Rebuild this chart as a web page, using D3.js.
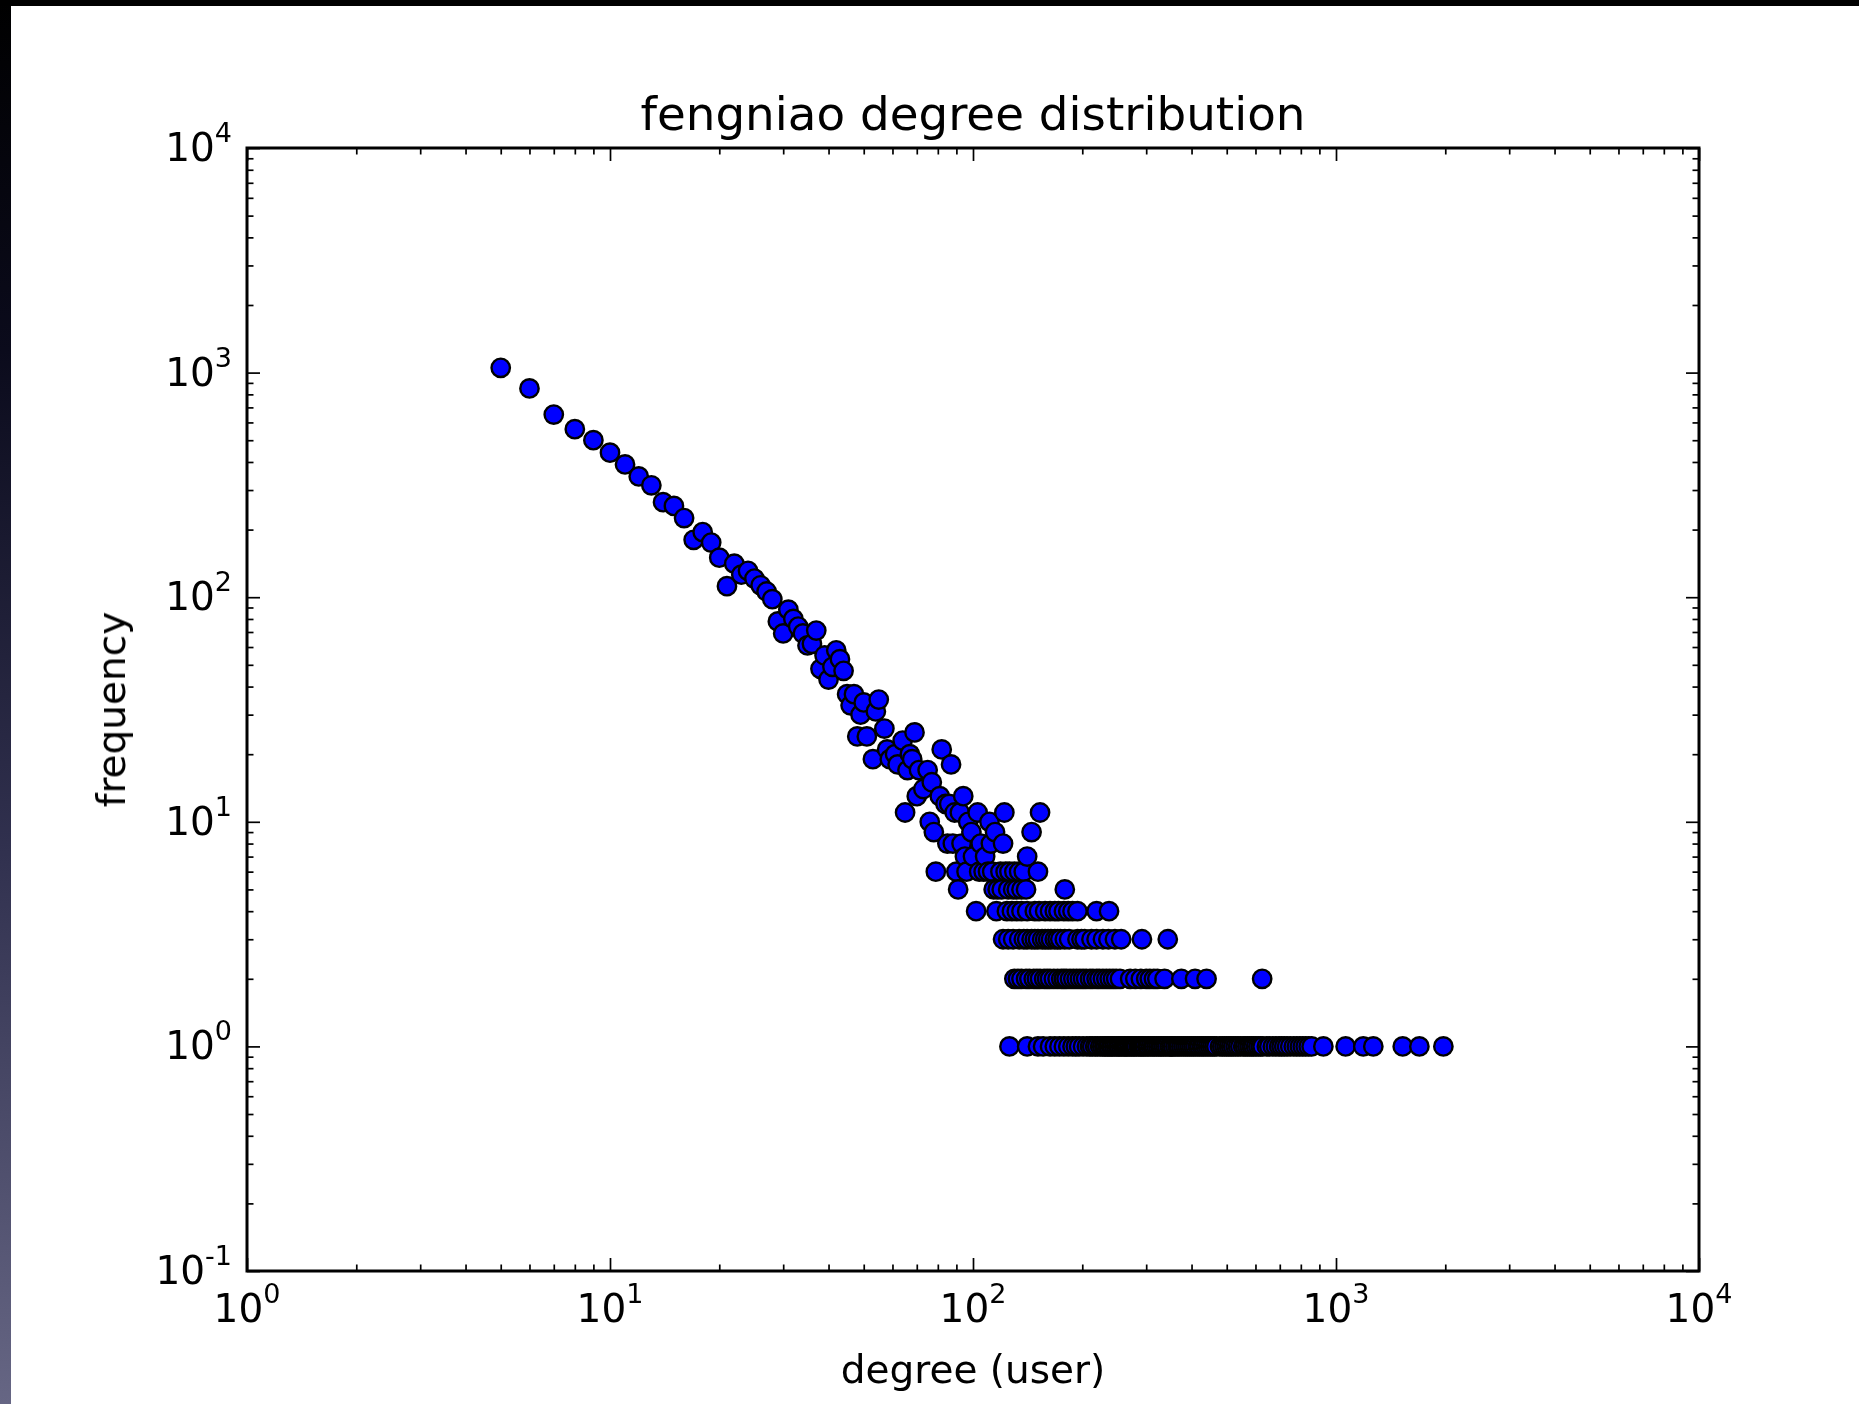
<!DOCTYPE html>
<html>
<head>
<meta charset="utf-8">
<script src="https://cdn.jsdelivr.net/npm/d3@7"></script>
<style>
  html, body { margin: 0; padding: 0; background: #ffffff; }
  svg { display: block; }
  text { font-family: "DejaVu Sans", "Bitstream Vera Sans", sans-serif; fill: #000; }
</style>
</head>
<body>
<svg id="chart" width="1859" height="1404"></svg>
<script>
// ---------------- data ----------------
const chartTitle = "fengniao degree distribution";
const xAxisLabel = "degree (user)";
const yAxisLabel = "frequency";
const xTickExponents = [0, 1, 2, 3, 4];
const yTickExponents = [-1, 0, 1, 2, 3, 4];

// head of the distribution (frequency >= 5)
const mainDegree = [
  5, 6, 7, 8, 9, 10, 11, 12, 13, 14,
  15, 16, 17, 18, 19, 20, 21, 22, 23, 24,
  25, 26, 27, 28, 29, 30, 31, 32, 33, 34,
  35, 36, 37, 38, 39, 40, 41, 42, 43, 44,
  45, 46, 47, 48, 49, 50,
  51, 53, 54, 55, 57, 58, 59, 61, 62, 64,
  65, 66, 67, 68, 69, 70, 71, 73, 75, 76,
  77, 78, 79, 81, 82, 84, 85, 86, 87, 88,
  89, 90, 91, 92, 93, 94, 95, 96, 97, 99,
  100, 103, 104, 105, 107, 108, 110, 111, 112, 113,
  114, 115, 117, 119, 120, 121, 122, 123, 125, 126,
  129, 130, 132, 134, 136, 138, 140, 141, 145, 151,
  153, 179
];
const mainFrequency = [
  1050, 850, 650, 560, 500, 440, 390, 345, 315, 265,
  255, 225, 180, 195, 175, 150, 112, 141, 126, 131,
  121, 113, 106, 98, 78, 69, 88, 80, 74, 69,
  61, 62, 71, 48, 55, 43, 49, 58, 53, 47,
  37, 33, 37, 24, 30, 34,
  24, 19, 31, 35, 26, 21, 19, 20, 18, 23,
  11, 17, 20, 19, 25, 13, 17, 14, 17, 10,
  15, 9, 6, 13, 21, 12, 8, 12, 18, 8,
  11, 6, 5, 11, 8, 13, 7, 6, 10, 9,
  7, 11, 6, 8, 6, 7, 6, 10, 8, 6,
  5, 9, 5, 6, 5, 8, 11, 6, 5, 6,
  5, 6, 5, 6, 5, 6, 5, 7, 9, 6,
  11, 5
];

// tail: degrees observed with frequency 4, 3, 2 and 1
const degreesFreq4 = [102, 116, 124, 128, 132, 136, 141, 148, 152, 158, 163, 168, 172, 178, 183, 188, 194, 219, 237];
const degreesFreq3 = [121, 125, 129, 134, 138, 141, 145, 148, 151, 155, 158, 161, 164, 168, 171, 174, 179, 184,
  194, 199, 203, 212, 219, 228, 236, 246, 256, 292, 344];
const degreesFreq2 = [130, 133, 136, 140, 143, 147, 150, 153, 157, 160, 163, 167, 171, 175, 178, 181, 185, 189,
  193, 197, 201, 205, 210, 214, 219, 223, 228, 233, 238, 243, 248, 254, 271, 280, 290, 300, 307, 315, 322,
  337, 375, 409, 440, 626];
const degreesFreq1 = [126, 141, 151, 156, 163, 168, 173, 178, 183, 188, 192, 196, 201, 206, 210, 213, 217, 220,
  224, 227, 230, 232, 235, 237, 240, 242, 245, 248, 251, 253, 256, 259, 262, 264, 267, 270, 273, 276, 279,
  282, 286, 289, 292, 295, 298, 302, 305, 309, 313, 316, 320, 324, 328, 331, 335, 339, 343, 348, 352, 356,
  361, 366, 370, 375, 380, 385, 390, 395, 400, 405, 410, 416, 421, 427, 432, 438, 444, 450, 456, 462, 468,
  479, 486, 493, 500, 507, 514, 521, 529, 537, 545, 555, 562, 570, 578, 586, 593, 602, 611, 620, 628,
  645, 655, 670, 683, 697, 708, 720, 733, 748, 765, 780, 795, 810, 825, 841, 857, 923, 1063, 1189, 1267,
  1527, 1697, 1976];

// ---------------- layout ----------------
const W = 1859, H = 1404;
const plot = { left: 247, right: 1699, top: 148, bottom: 1271 };
const majorLen = 13, minorLen = 6.5;
const fontTick = 39, fontSup = 27, fontTitle = 46.8;

const svg = d3.select("#chart");

// screenshot frame (dark bands at the top and left)
const defs = svg.append("defs");
const grad = defs.append("linearGradient").attr("id", "leftBand")
  .attr("x1", 0).attr("y1", 0).attr("x2", 0).attr("y2", 1);
[["0%", "#000000"], ["25%", "#0b0b1c"], ["60%", "#30304e"], ["100%", "#666684"]].forEach(([o, c]) =>
  grad.append("stop").attr("offset", o).attr("stop-color", c));
const soft = defs.append("filter").attr("id", "soft")
  .attr("x", -0.02).attr("y", -0.02).attr("width", 1.04).attr("height", 1.04);
soft.append("feGaussianBlur").attr("stdDeviation", 0.6);

svg.append("rect").attr("x", 0).attr("y", 0).attr("width", W).attr("height", H).attr("fill", "#ffffff");
svg.append("rect").attr("x", 0).attr("y", 0).attr("width", 11).attr("height", H).attr("fill", "url(#leftBand)");
svg.append("rect").attr("x", 0).attr("y", 0).attr("width", W).attr("height", 6).attr("fill", "#000000");

const chart = svg.append("g").attr("filter", "url(#soft)");

// ---------------- scales ----------------
const x = d3.scaleLog().domain([1, 1e4]).range([plot.left, plot.right]);
const y = d3.scaleLog().domain([0.1, 1e4]).range([plot.bottom, plot.top]);

const isDecade = v => Math.abs(Math.log10(v) - Math.round(Math.log10(v))) < 1e-9;
const xMajor = xTickExponents.map(e => Math.pow(10, e));
const yMajor = yTickExponents.map(e => Math.pow(10, e));
const xMinor = x.ticks().filter(v => !isDecade(v));
const yMinor = y.ticks().filter(v => !isDecade(v));

// ---------------- ticks (inward, on all four sides) ----------------
function tickGroup(axis, transform, values, len) {
  chart.append("g").attr("transform", transform)
    .call(axis.tickValues(values).tickSize(-len).tickSizeOuter(0).tickFormat(""))
    .call(g => g.select(".domain").remove())
    .call(g => g.selectAll(".tick line").attr("stroke", "#000").attr("stroke-width", 1.7));
}
[[xMajor, majorLen], [xMinor, minorLen]].forEach(([vals, len]) => {
  tickGroup(d3.axisBottom(x), `translate(0,${plot.bottom})`, vals, len);
  tickGroup(d3.axisTop(x), `translate(0,${plot.top})`, vals, len);
});
[[yMajor, majorLen], [yMinor, minorLen]].forEach(([vals, len]) => {
  tickGroup(d3.axisLeft(y), `translate(${plot.left},0)`, vals, len);
  tickGroup(d3.axisRight(y), `translate(${plot.right},0)`, vals, len);
});

// ---------------- data points ----------------
const points = [];
mainDegree.forEach((d, i) => points.push({ d: d, f: mainFrequency[i] }));
[[degreesFreq4, 4], [degreesFreq3, 3], [degreesFreq2, 2], [degreesFreq1, 1]].forEach(([arr, f]) =>
  arr.forEach(d => points.push({ d: d, f: f })));
points.sort((a, b) => a.d - b.d);

chart.append("g").selectAll("circle").data(points).join("circle")
  .attr("cx", p => x(p.d))
  .attr("cy", p => y(p.f))
  .attr("r", 9.2)
  .attr("fill", "#0000ff")
  .attr("stroke", "#000000")
  .attr("stroke-width", 2.4);

// ---------------- frame ----------------
chart.append("rect")
  .attr("x", plot.left).attr("y", plot.top)
  .attr("width", plot.right - plot.left).attr("height", plot.bottom - plot.top)
  .attr("fill", "none").attr("stroke", "#000").attr("stroke-width", 3);

// ---------------- tick labels ----------------
function powerLabel(px, py, exp, anchor) {
  const t = chart.append("text").attr("x", px).attr("y", py)
    .attr("text-anchor", anchor).style("font-size", fontTick + "px");
  t.append("tspan").text("10");
  t.append("tspan").attr("dy", -19).style("font-size", fontSup + "px").text(String(exp));
}
xTickExponents.forEach(e => powerLabel(x(Math.pow(10, e)), 1322, e, "middle"));
yTickExponents.forEach(e => powerLabel(232, y(Math.pow(10, e)) + 13, e, "end"));

// ---------------- titles ----------------
chart.append("text").attr("x", (plot.left + plot.right) / 2).attr("y", 130)
  .attr("text-anchor", "middle").style("font-size", fontTitle + "px").text(chartTitle);
chart.append("text").attr("x", (plot.left + plot.right) / 2).attr("y", 1383)
  .attr("text-anchor", "middle").style("font-size", fontTick + "px").text(xAxisLabel);
chart.append("text")
  .attr("transform", `translate(125,${(plot.top + plot.bottom) / 2}) rotate(-90)`)
  .attr("text-anchor", "middle").style("font-size", fontTick + "px").text(yAxisLabel);
</script>
</body>
</html>
